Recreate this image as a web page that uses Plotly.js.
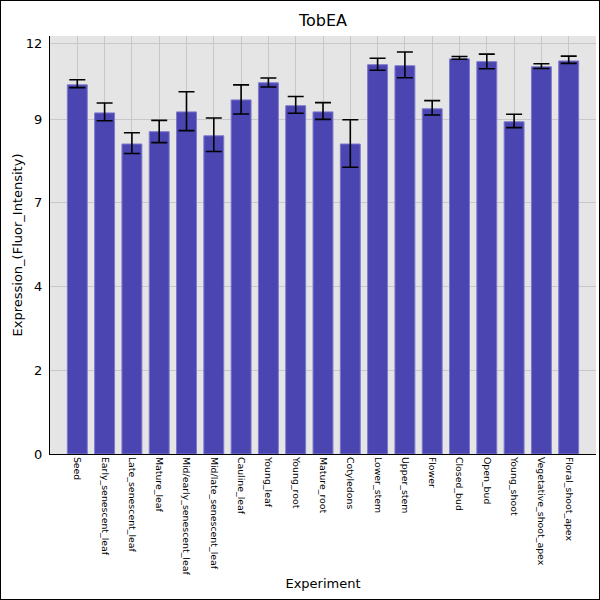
<!DOCTYPE html>
<html>
<head>
<meta charset="utf-8">
<script src="https://cdn.plot.ly/plotly-3.0.1.min.js"></script>
<style>
  body { margin: 0; background: #fff; }
  #plot { width: 600px; height: 600px; }
  #frame { position: absolute; left: 0; top: 0; width: 598px; height: 598px; border: 1px solid #000; pointer-events: none; }
</style>
</head>
<body>
<div id="plot"></div>
<div id="frame"></div>
<script>
const experiments = ['Seed', 'Early_senescent_leaf', 'Late_senescent_leaf', 'Mature_leaf',
  'Mid/early_senescent_leaf', 'Mid/late_senescent_leaf', 'Cauline_leaf', 'Young_leaf',
  'Young_root', 'Mature_root', 'Cotyledons', 'Lower_stem', 'Upper_stem', 'Flower',
  'Closed_bud', 'Open_bud', 'Young_shoot', 'Vegetative_shoot_apex', 'Floral_shoot_apex']
const expression = [10.80, 9.98, 9.07, 9.43, 10.01, 9.31, 10.36, 10.86, 10.19, 10.01,
  9.07, 11.39, 11.36, 10.10, 11.56, 11.48, 9.72, 11.33, 11.50]
const errUpper = [10.95, 10.27, 9.40, 9.76, 10.60, 9.83, 10.80, 11.00, 10.46, 10.28,
  9.78, 11.58, 11.76, 10.34, 11.63, 11.70, 9.94, 11.42, 11.64]
const errLower = [10.72, 9.75, 8.79, 9.11, 9.46, 8.85, 9.95, 10.74, 9.97, 9.79,
  8.39, 11.23, 11.01, 9.92, 11.55, 11.27, 9.55, 11.28, 11.43]
const yTickVals = [0, 2.45, 4.9, 7.35, 9.8, 12]
const yTickText = ['0', '2', '4', '7', '9', '12']

const xIdx = experiments.map((e, i) => i)

const trace = {
  type: 'bar',
  x: xIdx,
  y: expression,
  width: 0.73,
  marker: { color: '#4a45b1', line: { color: '#7d79cc', width: 1 } },
  error_y: {
    type: 'data',
    symmetric: false,
    array: errUpper.map((u, i) => u - expression[i]),
    arrayminus: errLower.map((l, i) => expression[i] - l),
    color: '#000',
    thickness: 1.6,
    width: 8
  },
  hoverinfo: 'x+y'
}

const layout = {
  width: 600,
  height: 600,
  font: { family: 'DejaVu Sans', color: '#000' },
  paper_bgcolor: '#fff',
  plot_bgcolor: '#e5e5e5',
  margin: { l: 50, r: 4, t: 36, b: 146 },
  showlegend: false,
  title: { text: 'TobEA', x: 0.5, xref: 'paper', y: 0.9667, yref: 'container', yanchor: 'middle', font: { size: 16 } },
  xaxis: {
    range: [-1, 19],
    tickmode: 'array',
    tickvals: xIdx,
    ticktext: experiments,
    tickangle: 90,
    tickfont: { size: 9.4 },
    showgrid: true,
    gridcolor: '#c8c8c8',
    gridwidth: 1,
    showline: true,
    linecolor: '#000',
    linewidth: 1,
    ticks: '',
    zeroline: false,
    title: { text: 'Experiment', font: { size: 13 }, standoff: 4 }
  },
  yaxis: {
    range: [0, 12.23],
    tickmode: 'array',
    tickvals: yTickVals,
    ticktext: yTickText,
    tickfont: { size: 13 },
    showgrid: true,
    gridcolor: '#c8c8c8',
    gridwidth: 1,
    showline: true,
    linecolor: '#000',
    linewidth: 1,
    ticks: '',
    ticklabelstandoff: 4,
    zeroline: false,
    title: { text: 'Expression_(Fluor_Intensity)', font: { size: 13 }, standoff: 0 }
  }
}

Plotly.newPlot('plot', [trace], layout, { staticPlot: true })
</script>
</body>
</html>
